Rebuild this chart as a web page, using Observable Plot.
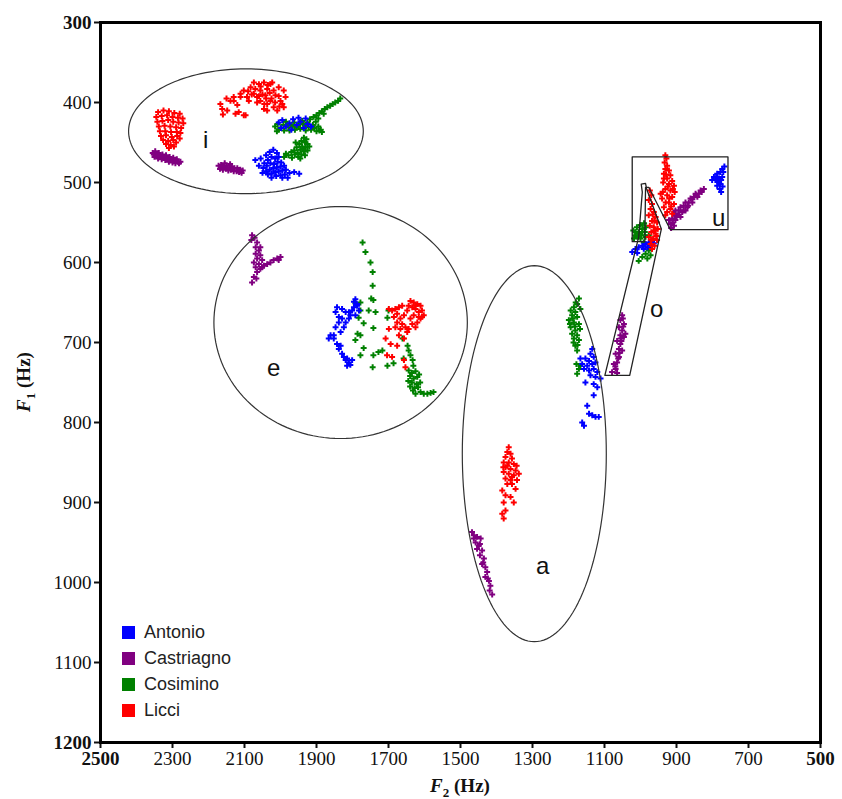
<!DOCTYPE html>
<html><head><meta charset="utf-8">
<script src="https://cdn.jsdelivr.net/npm/d3@7"></script>
<script src="https://cdn.jsdelivr.net/npm/@observablehq/plot@0.6"></script>
<style>
body{margin:0;background:#fff;}
#wrap{position:relative;width:842px;height:799px;}
#legend{position:absolute;left:122px;top:619px;font-family:"Liberation Sans",Arial,sans-serif;font-size:18px;color:#222;}
.row{display:flex;align-items:center;height:26px;}
.sw{width:13px;height:13px;margin-right:9px;}
</style></head><body><div id="wrap"></div>
<script>
// ---------- data ----------
const speakers = ["Antonio", "Castriagno", "Cosimino", "Licci"];
const speakerColors = ["#0000ff", "#800080", "#008000", "#ff0000"];
const xTicks = [2300, 2100, 1900, 1700, 1500, 1300, 1100, 900, 700];
const xEndTicks = [2500, 500];
const yTicks = [400, 500, 600, 700, 800, 900, 1000, 1100];
const yEndTicks = [300, 1200];

// vowel labels [F2, F1]
const vowelLabels = ["i", "e", "a", "o", "u"];
const vowelLabelF2 = [2208, 2019, 1272, 955, 783];
const vowelLabelF1 = [447, 732, 980, 659, 545];

// ellipses around i, e, a (Hz)
const ellipseVowels = ["i", "e", "a"];
const ellipseCx = [2096, 1833, 1295];
const ellipseCy = [436, 675, 839];
const ellipseRx = [326, 352, 200];
const ellipseRy = [78, 145, 235];

// polygons around o and u (F2, F1)
const oPolygon = [[1099,741],[1030,741],[942,558],[983,508],[986,501],[998,502],[995,512],[1005,568],[1099,741]];
const uPolygon = [[1023,468],[757,468],[757,559],[917,559],[977,506],[986,506],[988,574],[1023,574],[1023,468]];

// ---- Antonio (F2, F1) ----
const antonio_i = [[2070,472],[2055,470],[2040,466],[2030,462],[2020,459],[2010,463],[2045,476],[2035,472],[2025,468],[2015,470],[2005,468],[2048,482],[2038,479],[2028,476],[2018,477],[2008,474],[1998,475],[2040,486],[2030,484],[2020,482],[2010,481],[2000,480],[1990,479],[2035,490],[2025,489],[2015,487],[2005,486],[1995,485],[1985,484],[2025,494],[2012,492],[2000,491],[1988,490],[1975,488],[1962,487],[1948,489],[1995,494],[1980,494],[2060,479],[2050,488],
  [2005,425],[1995,422],[1985,430],[1975,426],[1965,421],[1955,428],[1945,424],[1935,432],[1925,427],[1915,430],[1998,432],[1970,434],[1950,419],[1930,420]];
const antonio_e = [[1792,646],[1787,652],[1796,656],[1801,660],[1810,662],[1819,662],[1829,658],[1843,656],[1847,662],[1838,668],[1829,670],[1819,675],[1810,670],[1806,666],[1824,681],[1847,681],[1861,691],[1866,695],[1852,695],[1843,702],[1838,708],[1829,714],[1824,718],[1819,722],[1810,725],[1806,728],[1815,729],[1787,654],[1782,660],[1792,666],[1852,691],[1833,704],[1815,720],[1801,722],[1833,687],[1838,675],[1796,649]];
const antonio_a = [[1134,708],[1139,714],[1167,720],[1153,720],[1143,723],[1130,718],[1162,727],[1148,729],[1134,727],[1125,725],[1157,733],[1143,735],[1130,733],[1120,737],[1139,741],[1125,743],[1153,750],[1130,752],[1120,756],[1130,766],[1148,779],[1143,789],[1134,791],[1125,793],[1116,793],[1162,800],[1157,804],[1111,745]];
const antonio_o = [[1023,587],[1014,583],[1005,581],[995,579],[986,577],[977,575],[968,573],[991,583],[981,581],[1009,588],[972,579],[963,576]];
const antonio_u = [[767,480],[773,483],[778,487],[787,489],[796,493],[801,497],[792,497],[782,495],[773,493],[778,502],[787,504],[780,508],[776,512],[770,487],[782,500],[784,498],[790,493],[776,497],[772,505]];

// ---- Castriagno ----
const castriagno_i = [[2355,463],[2348,461],[2345,466],[2338,463],[2335,467],[2328,465],[2325,469],[2318,466],[2315,470],[2308,468],[2305,471],[2298,469],[2295,473],[2288,471],[2285,474],[2278,474],[2350,468],[2340,470],[2330,471],[2320,472],[2310,474],[2300,475],[2292,476],
  [2352,465],[2342,467],[2332,468],[2322,469],[2312,471],[2302,472],[2290,473],[2282,476],
  [2172,479],[2165,478],[2158,480],[2150,479],[2142,481],[2135,480],[2128,482],[2120,482],[2112,484],[2105,485],[2168,483],[2160,484],[2152,483],[2145,485],[2138,484],[2130,486],[2122,486],[2115,487],[2108,488],[2140,477],[2155,476],
  [2162,481],[2148,482],[2133,483],[2118,485],[2110,486]];
const castriagno_e = [[2079,566],[2072,569],[2065,575],[2069,581],[2060,585],[2069,589],[2056,591],[2065,595],[2051,597],[2060,602],[2069,606],[2065,612],[2074,618],[2079,625],[2046,604],[2037,602],[2028,600],[2019,597],[2009,595],[2000,593],[2056,581],[2051,606],[2074,600],[2067,620],[2081,572],[2056,608],[2005,597]];
const castriagno_a = [[1468,937],[1463,941],[1454,943],[1458,950],[1449,954],[1444,945],[1454,958],[1440,960],[1446,966],[1435,970],[1440,977],[1431,981],[1426,987],[1431,993],[1421,998],[1417,1004],[1419,1010],[1412,1015],[1463,945],[1446,952],[1437,975],[1424,995]];
const castriagno_o = [[1051,666],[1056,672],[1046,677],[1060,681],[1051,685],[1056,691],[1046,693],[1065,698],[1056,702],[1060,708],[1051,710],[1069,714],[1060,718],[1065,725],[1074,727],[1069,733],[1079,737],[1065,738],[1049,670],[1042,689],[1053,698],[1058,713],[1062,720],[1070,730],[1048,680],[1055,695]];
const castriagno_u = [[824,508],[833,510],[838,514],[847,514],[852,518],[861,520],[866,525],[875,525],[880,529],[889,531],[894,535],[903,535],[907,539],[898,541],[912,545],[903,547],[917,552],[907,554],[884,537],[870,531],[856,525],[842,518],[889,543],[915,557],[875,535],[921,547],
  [900,543],[910,550],[893,540],[880,535],[868,529],[856,521],[845,516],[830,512]];

// ---- Cosimino ----
const cosimino_i = [[2015,430],[2008,427],[2000,432],[1992,428],[1985,424],[1978,431],[1970,428],[1962,425],[1955,431],[1948,427],[1940,423],[1932,429],[1925,425],[1918,421],[1910,428],[1902,424],[1895,430],[1888,434],[2005,434],[1990,435],[1975,435],[1960,434],[1945,433],[1930,435],[1915,434],[1900,436],[1885,437],
  [2010,436],[1982,428],[1966,430],[1950,428],[1936,427],[1922,431],[1906,432],[1892,435],
  [1908,418],[1900,416],[1892,413],[1885,411],[1877,408],[1870,406],[1862,404],[1855,402],[1848,400],[1840,398],[1834,395],[1895,420],[1880,414],
  [1935,444],[1928,446],[1942,448],[1932,450],[1925,452],[1948,452],[1940,455],[1930,456],[1920,455],[1955,456],[1945,459],[1935,461],[1925,460],[1962,460],[1952,463],[1942,465],[1932,466],[1970,462],[1960,465],[1950,468],[1985,464],[1978,466],[1990,468],[1968,469],[1945,470],[1938,458],[1958,450]];
const cosimino_e = [[1772,575],[1764,587],[1750,600],[1744,612],[1744,629],[1742,647],
  [1778,650],[1748,645],[1755,660],[1736,662],[1783,669],[1769,676],[1742,682],[1786,689],[1778,691],[1703,669],[1700,660],[1792,697],[1769,707],[1778,716],[1742,716],[1728,712],[1717,710],[1703,729],[1744,731],[1686,726],[1658,720],[1661,695],[1647,704],[1644,710],[1639,716],[1633,722],[1631,729],[1792,651],[1778,660],
  [1644,735],[1635,738],[1625,736],[1640,742],[1630,745],[1620,743],[1615,740],[1645,748],[1635,750],[1622,752],[1612,750],[1640,755],[1628,757],[1618,756],
  [1611,762],[1602,764],[1592,764],[1583,763],[1575,762],[1625,764],[1632,760]];
const cosimino_a = [[1171,645],[1176,652],[1185,656],[1194,660],[1181,662],[1190,666],[1176,668],[1199,672],[1185,675],[1171,677],[1194,681],[1181,685],[1190,689],[1176,691],[1185,695],[1171,697],[1181,704],[1176,710],[1167,658],[1168,683],[1196,677],[1178,727],[1171,733],[1176,739],[1167,729],
  [1180,650],[1188,670],[1182,680],[1186,700],[1175,703]];
const cosimino_o = [[1014,562],[1005,564],[995,562],[1000,570],[986,568],[977,566],[991,575],[977,585],[986,589],[995,593],[1005,598],[968,583],[981,595],[972,591],
  [1020,560],[1010,556],[1000,553],[990,551],[1015,566],[1005,562],[995,558],[985,556],[1018,570],[1008,568],[998,566],[988,562]];

// ---- Licci ----
const licci_i = [[2340,412],[2325,410],[2310,411],[2295,413],[2280,414],[2345,418],[2330,417],[2315,416],[2300,418],[2285,419],[2272,420],[2342,424],[2328,423],[2312,422],[2298,424],[2283,425],[2270,426],[2338,430],[2322,429],[2306,430],[2290,431],[2276,432],[2335,436],[2320,436],[2304,437],[2288,437],[2278,438],[2332,442],[2318,441],[2302,443],[2287,442],[2280,445],[2326,447],[2312,448],[2298,447],[2290,450],[2318,452],[2305,453],[2296,455],[2310,457],
  [2167,402],[2162,408],[2148,410],[2130,398],[2116,412],[2111,393],[2097,416],[2088,398],[2083,381],[2074,375],[2060,377],[2046,375],[2037,383],[2028,377],[2023,375],[2005,381],[1991,385],[1986,393],[2000,398],[1991,406],[2009,410],[2019,406],[2037,402],[2056,398],[2065,393],[2074,389],[2093,393],[2102,385],[2111,389],[2130,393],[2139,398],[2056,385],[2042,391],[2028,398],[2014,391],[2019,385],[2037,410],[2046,408],[1995,402],
  [2050,390],[2040,395],[2030,388],[2060,392],[2045,402],[2025,395],[2015,400],[2070,383],[2055,380],[2035,378],[2005,392],[2003,405],[2080,390],[2065,400],[2090,386],[2120,403],[2150,395],[2160,415],[2102,416],[2125,414]];
const licci_e = [[1639,648],[1630,650],[1620,652],[1611,654],[1625,658],[1634,656],[1616,662],[1607,660],[1602,666],[1616,668],[1630,666],[1639,670],[1611,670],[1620,675],[1634,677],[1699,658],[1690,660],[1681,658],[1671,656],[1662,654],[1676,664],[1685,668],[1667,670],[1676,675],[1662,677],[1653,681],[1667,683],[1681,681],[1699,683],[1648,687],[1708,695],[1694,702],[1676,704],[1657,695],[1704,716],[1690,718],[1657,722],[1653,731],[1644,654],[1625,654],[1607,668],[1648,660],[1657,666],[1625,681],[1644,683],[1671,691]];
const licci_a = [[1366,831],[1370,837],[1361,839],[1375,843],[1357,845],[1380,850],[1366,850],[1352,852],[1375,856],[1361,858],[1347,860],[1380,862],[1366,864],[1352,866],[1338,864],[1375,870],[1361,872],[1343,872],[1370,877],[1357,877],[1384,885],[1375,891],[1347,883],[1361,893],[1352,900],[1380,900],[1375,910],[1384,914],[1380,920],[1370,854],[1357,868],[1344,854],[1381,856]];
const licci_o = [[974,510],[970,516],[977,522],[968,527],[972,533],[963,537],[977,541],[958,543],[968,548],[954,550],[974,554],[963,556],[952,558],[970,562],[958,564],[977,568],[965,570],[954,572],[972,577],[961,579],[968,583],[966,540],[960,560],[956,567],[970,572],[962,548]];
const licci_u = [[931,466],[928,470],[933,475],[926,479],[931,483],[921,485],[935,489],[917,491],[926,495],[912,498],[937,500],[921,502],[907,504],[931,508],[917,510],[905,512],[926,516],[912,518],[940,520],[921,525],[907,527],[935,531],[917,533],[926,537],[912,539],[931,541],[944,514],
  [935,495],[929,490],[920,520],[930,525],[915,530],[938,512],[924,505],[910,508]];

// ---------- build table ----------
const bySpeaker = {
  Castriagno: [castriagno_i, castriagno_e, castriagno_a, castriagno_o, castriagno_u],
  Cosimino: [cosimino_i, cosimino_e, cosimino_a, cosimino_o],
  Antonio: [antonio_i, antonio_e, antonio_a, antonio_o, antonio_u],
  Licci: [licci_i, licci_e, licci_a, licci_o, licci_u]
};
const points = [];
for (const sp of ["Castriagno", "Cosimino", "Antonio", "Licci"]) {
  for (const arr of bySpeaker[sp]) for (const [f2, f1] of arr) points.push({speaker: sp, F2: f2, F1: f1});
}
const ellipseOutline = [];
ellipseVowels.forEach((v, k) => {
  for (let t = 0; t <= 144; t++) {
    const a = t / 144 * 2 * Math.PI;
    ellipseOutline.push({v, F2: ellipseCx[k] + ellipseRx[k] * Math.cos(a), F1: ellipseCy[k] + ellipseRy[k] * Math.sin(a)});
  }
});
const labels = vowelLabels.map((v, i) => ({v, F2: vowelLabelF2[i], F1: vowelLabelF1[i]}));

const serif = "'Liberation Serif', 'Times New Roman', serif";
const axisOpts = {tickSize: 6, tickPadding: 3, fontSize: 19, tickFormat: d => String(d), label: null, strokeWidth: 2, color: "#111"};

const chart = Plot.plot({
  width: 842, height: 799,
  marginLeft: 100, marginRight: 22, marginTop: 22, marginBottom: 57,
  style: {fontFamily: serif, background: "#fff", color: "#111"},
  x: {domain: [2500, 500]},
  y: {domain: [300, 1200], reverse: true},
  color: {domain: speakers, range: speakerColors},
  marks: [
    Plot.dot(points, {x: "F2", y: "F1", fill: "speaker", symbol: "cross", r: 2.5, stroke: "none"}),
    Plot.line(ellipseOutline, {x: "F2", y: "F1", z: "v", stroke: "#333", strokeWidth: 1.2}),
    Plot.line(oPolygon, {x: d => d[0], y: d => d[1], stroke: "#222", strokeWidth: 1.3}),
    Plot.line(uPolygon, {x: d => d[0], y: d => d[1], stroke: "#222", strokeWidth: 1.3}),
    Plot.text(labels, {x: "F2", y: "F1", text: "v", fontSize: 24, fontFamily: "'Liberation Sans', Arial, sans-serif", fill: "#111", textAnchor: "middle", lineAnchor: "middle"}),
    Plot.axisX(xTicks, {...axisOpts, anchor: "bottom"}),
    Plot.axisX(xEndTicks, {...axisOpts, anchor: "bottom", fontWeight: "bold"}),
    Plot.axisY(yTicks, {...axisOpts, anchor: "left"}),
    Plot.axisY(yEndTicks, {...axisOpts, anchor: "left", fontWeight: "bold"}),
    Plot.frame({stroke: "#000", strokeWidth: 3})
  ]
});

const svg = d3.select(chart);
const sx = chart.scale("x"), sy = chart.scale("y");
const xMid = (sx.apply(2500) + sx.apply(500)) / 2;
const yMid = (sy.apply(300) + sy.apply(1200)) / 2;
function axisTitle(sel, sub) {
  sel.attr("font-family", serif).attr("font-weight", "bold").attr("font-size", 19).attr("fill", "#111").attr("text-anchor", "middle");
  sel.append("tspan").attr("font-style", "italic").text("F");
  sel.append("tspan").attr("font-size", 13).attr("dy", 5).text(sub);
  sel.append("tspan").attr("dy", -5).text(" (Hz)");
}
axisTitle(svg.append("text").attr("x", xMid).attr("y", 792), "2");
axisTitle(svg.append("text").attr("transform", `translate(30,${yMid}) rotate(-90)`), "1");

const wrap = document.getElementById("wrap");
wrap.appendChild(chart);
const legend = document.createElement("div");
legend.id = "legend";
speakers.forEach((s, i) => {
  const row = document.createElement("div"); row.className = "row";
  const sw = document.createElement("div"); sw.className = "sw"; sw.style.background = speakerColors[i];
  const t = document.createElement("span"); t.textContent = s;
  row.appendChild(sw); row.appendChild(t); legend.appendChild(row);
});
wrap.appendChild(legend);
</script></body></html>
